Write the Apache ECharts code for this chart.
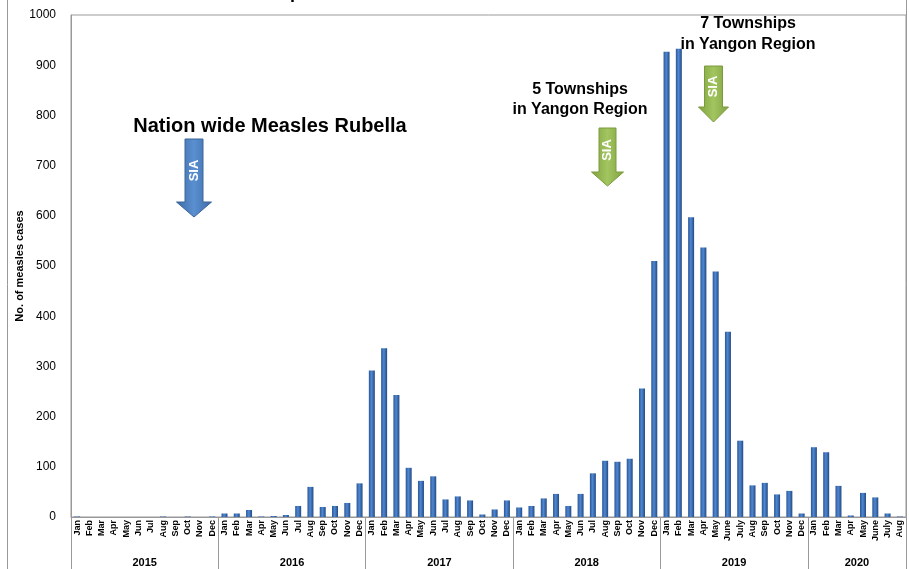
<!DOCTYPE html>
<html>
<head>
<meta charset="utf-8">
<title>Measles cases 2015-2020</title>
<script src="https://cdn.jsdelivr.net/npm/echarts@6/dist/echarts.min.js"></script>
<style>
  html, body { margin: 0; padding: 0; background: #fff; }
  #chart { width: 909px; height: 569px; }
</style>
</head>
<body>
<div id="chart"></div>
<script>
// month labels per year (2019/2020 spell out June / July like the source)
const monthsShort = ['Jan','Feb','Mar','Apr','May','Jun','Jul','Aug','Sep','Oct','Nov','Dec'];
const months2019 = ['Jan','Feb','Mar','Apr','May','June','July','Aug','Sep','Oct','Nov','Dec'];
const months2020 = ['Jan','Feb','Mar','Apr','May','June','July','Aug'];
const years = ['2015','2016','2017','2018','2019','2020'];

// monthly measles cases
const cases2015 = [1, 0, 0, 0, 0, 0, 0, 1, 0, 1, 0, 1];
const cases2016 = [7, 7, 14, 1, 2, 4, 22, 60, 20, 22, 28, 67];
const cases2017 = [292, 336, 243, 98, 72, 81, 35, 41, 33, 5, 15, 33];
const cases2018 = [19, 22, 37, 46, 22, 46, 87, 112, 110, 116, 256, 510];
const cases2019 = [927, 933, 597, 537, 489, 369, 152, 63, 68, 45, 52, 7];
const cases2020 = [139, 129, 62, 3, 48, 39, 7, 1];

const yTicks = [0, 100, 200, 300, 400, 500, 600, 700, 800, 900, 1000];

const monthLabels = [].concat(monthsShort, monthsShort, monthsShort, monthsShort, months2019, months2020);
const cases = [].concat(cases2015, cases2016, cases2017, cases2018, cases2019, cases2020);

// year row: boundaries + centre positions in month units
const yearBounds = [0, 12, 24, 36, 48, 60, monthLabels.length];
const yearCentres = years.map((y, i) => (yearBounds[i] + yearBounds[i + 1]) / 2);

const FONT = 'Liberation Sans';
const chart = echarts.init(document.getElementById('chart'), null, { renderer: 'canvas' });

function arrow(cx, top, shaftW, headStart, headW, tip, colorA, colorB, stroke) {
    const s = shaftW / 2, h = headW / 2;
    return [{
        type: 'polygon',
        shape: { points: [[cx - s, top], [cx + s, top], [cx + s, headStart], [cx + h, headStart],
                          [cx, tip], [cx - h, headStart], [cx - s, headStart]] },
        style: {
            fill: new echarts.graphic.LinearGradient(0, 0, 1, 0, [
                { offset: 0, color: colorA }, { offset: 0.5, color: colorB }, { offset: 1, color: colorA }
            ]),
            stroke: stroke, lineWidth: 1
        },
        z: 10
    }, {
        type: 'text',
        x: cx, y: top + (headStart - top) / 2,
        rotation: Math.PI / 2,
        style: { text: 'SIA', fill: '#fff', font: 'bold 13px ' + FONT, align: 'center', verticalAlign: 'middle' },
        z: 11
    }];
}

const option = {
    animation: false,
    grid: { left: 71, top: 15, right: 3, bottom: 52, show: true, borderColor: '#999', borderWidth: 1,
            outerBoundsMode: 'none' },
    xAxis: [{
        type: 'category',
        position: 'bottom',
        data: monthLabels,
        axisLine: { show: true, lineStyle: { color: '#999' } },
        axisTick: { show: false },
        axisLabel: { interval: 0, rotate: 90, margin: 3, fontFamily: FONT, fontSize: 9, fontWeight: 'bold', color: '#000' }
    }, {
        type: 'value',
        position: 'bottom',
        offset: 0,
        min: 0,
        max: monthLabels.length,
        axisLine: { show: false },
        splitLine: { show: false },
        axisTick: { show: true, customValues: yearBounds, length: 56, lineStyle: { color: '#999' } },
        axisLabel: {
            customValues: yearCentres,
            formatter: v => years[yearCentres.indexOf(v)] || '',
            margin: 40, fontFamily: FONT, fontSize: 11, fontWeight: 'bold', color: '#000'
        }
    }],
    yAxis: {
        type: 'value',
        min: yTicks[0],
        max: yTicks[yTicks.length - 1],
        interval: 100,
        name: 'No. of measles cases',
        nameLocation: 'middle',
        nameGap: 46,
        nameMoveOverlap: false,
        nameTextStyle: { fontFamily: FONT, fontSize: 11, fontWeight: 'bold', color: '#000' },
        axisLine: { show: true, lineStyle: { color: '#999' } },
        axisTick: { show: false },
        splitLine: { show: false },
        axisLabel: { margin: 15, fontFamily: FONT, fontSize: 12, color: '#000', formatter: v => String(v) }
    },
    series: [{
        type: 'bar',
        xAxisIndex: 0,
        data: cases,
        barWidth: 6,
        itemStyle: {
            color: new echarts.graphic.LinearGradient(0, 0, 1, 0, [
                { offset: 0, color: '#2b5694' },
                { offset: 0.45, color: '#4f88d3' },
                { offset: 1, color: '#234a82' }
            ])
        }
    }],
    graphic: [
        // outer frame of the original figure
        { type: 'rect', shape: { x: 7.5, y: -5, width: 899, height: 600 }, style: { fill: 'none', stroke: '#999', lineWidth: 1 }, silent: true },
        // title, mostly cut off at the top edge
        { type: 'text', x: 470, y: -16, style: { text: 'Epidemic curve for measles cases 2015-2020', font: 'bold 18px ' + FONT, fill: '#000', align: 'center', verticalAlign: 'top' } },
        { type: 'text', x: 270, y: 126, style: { text: 'Nation wide Measles Rubella', font: 'bold 20px ' + FONT, fill: '#000', align: 'center', verticalAlign: 'middle' } },
        { type: 'text', x: 580, y: 100, style: { text: '5 Townships\nin Yangon Region', font: 'bold 16px ' + FONT, lineHeight: 20, fill: '#000', align: 'center', verticalAlign: 'middle' } },
        { type: 'text', x: 748, y: 34, style: { text: '7 Townships\nin Yangon Region', font: 'bold 16px ' + FONT, lineHeight: 21, fill: '#000', align: 'center', verticalAlign: 'middle' } }
    ]
        .concat(arrow(194, 139, 18, 202, 35, 217, '#3d6ca8', '#5a8fd0', '#3a6497'))
        .concat(arrow(607.5, 128, 17, 172, 32, 186, '#7fa23f', '#a2c560', '#7a9a3c'))
        .concat(arrow(713.5, 66, 18, 107, 30, 122, '#7fa23f', '#a2c560', '#7a9a3c'))
};

chart.setOption(option);
</script>
</body>
</html>
